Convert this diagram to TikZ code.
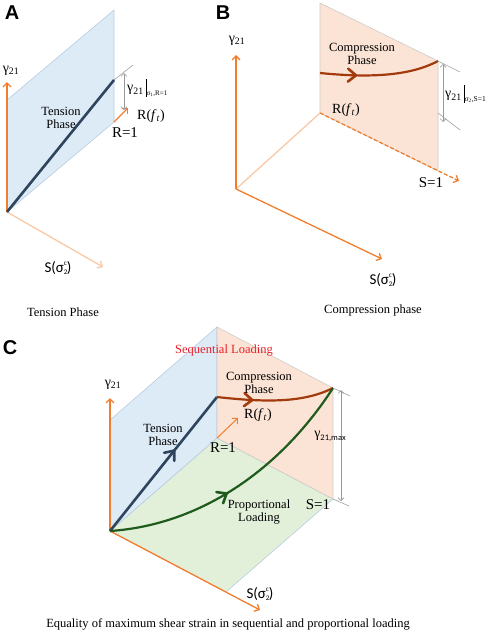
\documentclass[tikz,border=0pt]{standalone}
\usepackage{fontspec}
\setmainfont{Liberation Serif}
\newfontfamily\carl{Carlito}
\newfontfamily\arl{Liberation Sans}
\usetikzlibrary{arrows.meta,decorations.markings}
\definecolor{axor}{HTML}{F07E2E}
\definecolor{ltor}{HTML}{F9C9A6}
\definecolor{bfill}{HTML}{DDEBF7}
\definecolor{bedge}{HTML}{B8CCE0}
\definecolor{ofill}{HTML}{FBE4D5}
\definecolor{oedge}{HTML}{CFCBC8}
\definecolor{gfill}{HTML}{E2F0D9}
\definecolor{dkblue}{HTML}{2F455E}
\definecolor{brn}{HTML}{A23A0E}
\definecolor{dkgrn}{HTML}{1F5B1C}
\definecolor{seqred}{HTML}{E8202A}
\newcommand{\gam}{γ\textsubscript{21}}
\newcommand{\Ssig}{{\carl S(σ\rlap{\raisebox{-0.4ex}{\fontsize{7}{7}\selectfont 2}}\raisebox{0.9ex}{\fontsize{7}{7}\selectfont c})}}
\newcommand{\Rft}{R(\textit{f}\textsubscript{\textit{t}})}
\begin{document}
\begin{tikzpicture}[x=1pt,y=-1pt,
  axis/.style={draw=axor, line width=1.3pt, -{Straight Barb[length=4pt,width=8pt]}},
  ltaxis/.style={draw=ltor, line width=1.3pt, -{Straight Barb[length=4pt,width=8pt]}},
  bplane/.style={fill=bfill, draw=bedge, line width=0.6pt},
  oplane/.style={fill=ofill, draw=oedge, line width=0.6pt},
  gplane/.style={fill=gfill, draw=bedge, line width=0.6pt},
  extline/.style={draw=gray!75, line width=0.6pt},
  dimarr/.style={draw=gray!80, line width=0.6pt, {Straight Barb[length=3pt,width=6pt]}-{Straight Barb[length=3pt,width=6pt]}},
  txt/.style={font=\fontsize{12.5}{13.5}\selectfont, align=center, inner sep=0pt},
  big/.style={font=\fontsize{15}{15}\selectfont, inner sep=0pt},
  gfont/.style={font=\fontsize{14}{14}\selectfont, inner sep=0pt},
  letter/.style={font=\arl\bfseries\fontsize{20}{20}\selectfont, inner sep=0pt},
  midarrow/.style 2 args={postaction={decorate}, decoration={markings, mark=at position #1 with {\draw[#2, line width=2.6pt, line cap=round, line join=miter] (-8pt,-6.5pt) -- (0pt,0pt) -- (-8pt,6.5pt);}}}
]
\useasboundingbox (0,0) rectangle (498,632);

% ================= Panel A =================
\coordinate (OA) at (7,212);
\coordinate (OAt) at (7,100);
\coordinate (RA) at (114,122);
\coordinate (RAt) at (114,10);
\coordinate (LA) at (114,80);
\coordinate (RAa) at (128,108);
\coordinate (YA) at (7,82);
\coordinate (SA) at (103,267);
\coordinate (EA1) at (133,65);
\coordinate (DA1) at (124,73);
\coordinate (DA2) at (124,110);
\filldraw[bplane] (OA) -- (OAt) -- (RAt) -- (RA) -- cycle;
\draw[axis] (OA) -- (YA);
\draw[ltaxis] (OA) -- (SA);
\draw[dkblue, line width=2.6pt] (OA) -- (LA);
\draw[axis] (RA) -- (RAa);
\draw[extline] (LA) -- (EA1);
\draw[dimarr] (DA1) -- (DA2);
\node[letter] (lA) at (12,13) {A};
\node[gfont] (gA) at (11,71) {\gam};
\node[txt] (tpA) at (61,118) {Tension\\Phase};
\node[gfont, anchor=west] (dimA) at (127,88) {\gam\,\rule[-5pt]{0.6pt}{18pt}\raisebox{-4pt}{\fontsize{7}{7}\selectfont σ\textsubscript{1},R=1}};
\node[gfont] (rftA) at (151,116) {\Rft};
\node[big] (r1A) at (125,133) {R=1};
\node[big] (sA) at (58,268) {\Ssig};
\node[txt] (capA) at (63,312) {Tension Phase};

% ================= Panel B =================
\coordinate (OB) at (236,189);
\coordinate (YB) at (236,55);
\coordinate (SB) at (382,259);
\coordinate (RB) at (320,113);
\coordinate (RBt) at (320,3);
\coordinate (SBp) at (438,171);
\coordinate (SBt) at (438,61);
\coordinate (SBa) at (459,181);
\coordinate (CB0) at (320,73);
\coordinate (EB1) at (460,72);
\coordinate (EB2a) at (438,113);
\coordinate (EB2) at (460,130);
\coordinate (DB1) at (443,64);
\coordinate (DB2) at (443,122);
\filldraw[oplane] (RB) -- (RBt) -- (SBt) -- (SBp) -- cycle;
\draw[ltaxis, -] (OB) -- (RB);
\draw[axis] (OB) -- (YB);
\draw[axis] (OB) -- (SB);
\draw[axis, dashed, dash pattern=on 4pt off 2pt] (RB) -- (SBa);
\draw[brn, line width=2.2pt, midarrow={0.3}{brn}] (CB0) .. controls (370,78) and (410,76) .. (SBt);
\draw[extline] (SBt) -- (EB1);
\draw[extline] (EB2a) -- (EB2);
\draw[dimarr] (DB1) -- (DB2);
\node[letter] (lB) at (223,13) {B};
\node[gfont] (gB) at (237,41) {\gam};
\node[txt] (cpB) at (362,54) {Compression\\Phase};
\node[gfont] (rftB) at (346,110) {\Rft};
\node[big] (s1B) at (431,183) {S=1};
\node[gfont, anchor=west] (dimB) at (445,94) {\gam\,\rule[-5pt]{0.6pt}{18pt}\raisebox{-4pt}{\fontsize{7.5}{7.5}\selectfont σ\textsubscript{2},S=1}};
\node[big] (sB) at (383,280) {\Ssig};
\node[txt] (capB) at (373,310) {Compression phase};

% ================= Panel C =================
\coordinate (OC) at (110,531);
\coordinate (OCt) at (110,420);
\coordinate (RC) at (217,438);
\coordinate (RCt) at (217,327);
\coordinate (SC) at (226,592);
\coordinate (RSC) at (333,499);
\coordinate (RSCt) at (333,388);
\coordinate (LC) at (217,397);
\coordinate (YC) at (110,398);
\coordinate (SCa) at (260,610);
\coordinate (RCa) at (238,418);
\coordinate (EC1) at (350,396);
\coordinate (EC2) at (349,506);
\coordinate (DC1) at (341,390);
\coordinate (DC2) at (341,501);
\filldraw[gplane] (OC) -- (SC) -- (RSC) -- (RC) -- cycle;
\filldraw[bplane] (OC) -- (OCt) -- (RCt) -- (RC) -- cycle;
\filldraw[oplane] (RC) -- (RCt) -- (RSCt) -- (RSC) -- cycle;
\draw[axis] (OC) -- (YC);
\draw[axis] (OC) -- (SCa);
\draw[axis, line width=1pt] (RC) -- (RCa);
\draw[dkblue, line width=2.6pt, midarrow={0.6}{dkblue}] (OC) -- (LC);
\draw[brn, line width=2.2pt, midarrow={0.3}{brn}] (LC) .. controls (270,403) and (305,402) .. (RSCt);
\draw[dkgrn, line width=2.2pt, midarrow={0.45}{dkgrn}] (OC) .. controls (200,525) and (280,470) .. (RSCt);
\draw[extline] (RSCt) -- (EC1);
\draw[extline] (RSC) -- (EC2);
\draw[dimarr] (DC1) -- (DC2);
\node[letter] (lC) at (10,348) {C};
\node[txt, text=seqred] (seq) at (224,351) {Sequential Loading};
\node[gfont] (gC) at (113,385) {\gam};
\node[txt] (tpC) at (163,435) {Tension\\Phase};
\node[txt] (cpC) at (259,383) {Compression\\Phase};
\node[gfont] (rftC) at (258,415) {\Rft};
\node[big] (r1C) at (223,448) {R=1};
\node[gfont] (gmax) at (330,436) {γ\raisebox{-3pt}{\carl\fontsize{8.5}{8.5}\selectfont 21,max}};
\node[txt] (plC) at (259,512) {Proportional\\Loading};
\node[big] (s1C) at (318,505) {S=1};
\node[big] (sC) at (260,594) {\Ssig};
\node[txt] (capC) at (228,624) {Equality of maximum shear strain in sequential and proportional loading};
\end{tikzpicture}
\end{document}
